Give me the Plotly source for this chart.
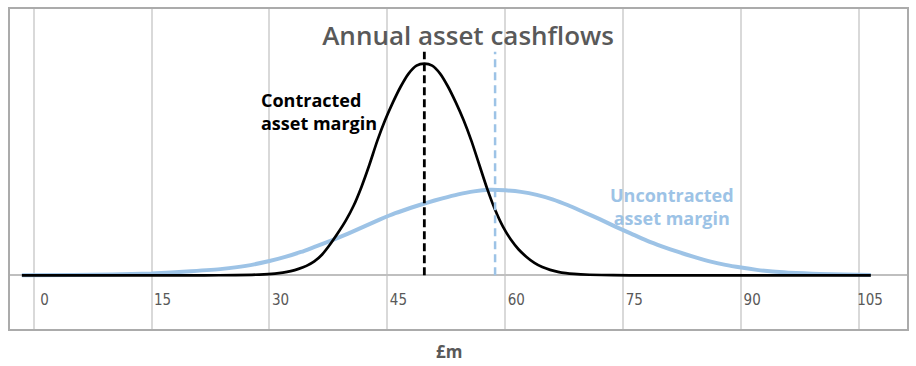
import plotly.graph_objects as go

# ---- data ----
contracted_x = [-1.5, 10, 21.7, 25.7, 28.7, 30.7, 31.7, 32.7, 33.7, 34.7, 35.7, 36.7, 37.7, 38.7, 39.7, 40.7,
                41.7, 42.7, 43.7, 44.7, 45.7, 46.7, 47.7, 48.7, 49.7, 50.7, 51.7, 52.7, 53.7, 54.7, 55.7,
                56.7, 57.7, 58.7, 59.7, 60.7, 61.7, 62.7, 63.7, 64.7, 65.7, 66.7, 67.7, 68.7, 70.7, 73.7,
                77.7, 90, 106.5]
contracted_y = [0, 0, 0, 0.2, 0.8, 1.8, 2.8, 4.3, 6.5, 9.5, 14, 21, 31, 42.5, 55, 70,
                89, 111, 135, 156, 174, 190, 203, 211, 213, 211, 203, 190, 174, 156, 135,
                111, 87, 66, 49, 36, 26, 18.5, 12.5, 8.3, 5.5, 3.5, 2.2, 1.4, 0.6, 0.15,
                0, 0, 0]

uncontracted_x = [-1.5, 5, 10, 15, 20, 24, 27, 30, 32, 34, 36, 38, 40, 42, 44, 46, 48, 50, 52, 54, 56, 58,
                  60, 62, 64, 66, 68, 70, 72, 74, 76, 78, 80, 82, 84, 86, 88, 90, 92, 94, 96, 98, 100,
                  103, 106.5]
uncontracted_y = [0.2, 0.4, 0.8, 1.9, 4.2, 6.5, 9.5, 14.5, 18.5, 23.5, 29.5, 35.5, 42, 49, 56, 62.5, 68, 73, 77.5,
                  81.5, 84.5, 86, 85.5, 84, 81, 76.5, 70.5, 63.5, 56.5, 49, 42, 35, 29, 23.5, 18.5, 14, 10.5,
                  7.8, 5.5, 3.8, 2.7, 2, 1.4, 0.8, 0.4]

contracted_mean = 49.7
uncontracted_mean = 58.7
marker_top = 225

tick_vals = [0, 15, 30, 45, 60, 75, 90, 105]
tick_text = ["0", "15", "30", "45", "60", "75", "90", "105"]

BLUE = "#9DC3E6"
GREY_TXT = "#595959"

fig = go.Figure()

fig.add_trace(go.Scatter(x=uncontracted_x, y=uncontracted_y, mode="lines",
                         line=dict(color=BLUE, width=4, shape="spline", smoothing=0.6),
                         name="Uncontracted asset margin", hoverinfo="skip"))
fig.add_trace(go.Scatter(x=contracted_x, y=contracted_y, mode="lines",
                         line=dict(color="black", width=2.7, shape="spline", smoothing=0.6),
                         name="Contracted asset margin", hoverinfo="skip"))
fig.add_trace(go.Scatter(x=[uncontracted_mean, uncontracted_mean], y=[0, marker_top], mode="lines",
                         line=dict(color=BLUE, width=2.5, dash="8px,5px"), hoverinfo="skip"))
fig.add_trace(go.Scatter(x=[contracted_mean, contracted_mean], y=[0, marker_top], mode="lines",
                         line=dict(color="black", width=2.8, dash="8px,4px"), hoverinfo="skip"))

fig.update_layout(
    width=916, height=366,
    margin=dict(l=10, r=8, t=7, b=37),
    paper_bgcolor="white", plot_bgcolor="white",
    showlegend=False,
    title=dict(text="Annual asset cashflows", x=0.511, y=0.9016, xanchor="center", yanchor="middle",
               xref="container", yref="container",
               font=dict(family="Open Sans", size=26, color=GREY_TXT, weight=600)),
    xaxis=dict(range=[-3.01, 111.1], tickvals=tick_vals, ticktext=tick_text,
               showgrid=True, gridcolor="#D9D9D9", gridwidth=2,
               zeroline=False, showline=True, mirror=True, linecolor="#ABABAB", linewidth=2,
               ticks="", ticklabelposition="inside", ticklabelshift=11, ticklabelstandoff=21,
               tickfont=dict(family="DejaVu Sans Condensed, Liberation Sans Narrow, Roboto", size=15,
                             color=GREY_TXT)),
    yaxis=dict(range=[-54, 268], showgrid=False, showticklabels=False, ticks="",
               zeroline=True, zerolinecolor="#BFBFBF", zerolinewidth=2,
               showline=True, mirror=True, linecolor="#ABABAB", linewidth=2),
)

fig.add_annotation(text="<b>Contracted<br>asset margin</b>", xref="paper", yref="paper",
                   x=(259.5 - 10) / 898, y=(329 - 110.5) / 322, xanchor="left", yanchor="middle",
                   align="left", showarrow=False,
                   font=dict(family="Open Sans", size=18, color="black"))
fig.add_annotation(text="<b>Uncontracted<br>asset margin</b>", xref="paper", yref="paper",
                   x=(673 - 10) / 898, y=(329 - 205.5) / 322, xanchor="center", yanchor="middle",
                   align="center", showarrow=False,
                   font=dict(family="Open Sans", size=18, color=BLUE))
fig.add_annotation(text="<b>£m</b>", xref="paper", yref="paper",
                   x=(449 - 10) / 898, y=(329 - 351.7) / 322, xanchor="center", yanchor="middle",
                   showarrow=False, font=dict(family="Open Sans", size=17, color=GREY_TXT))

fig.write_html("out.html", config={"displayModeBar": False},
               post_script="document.body.style.margin='0px';document.body.style.overflow='hidden';")
